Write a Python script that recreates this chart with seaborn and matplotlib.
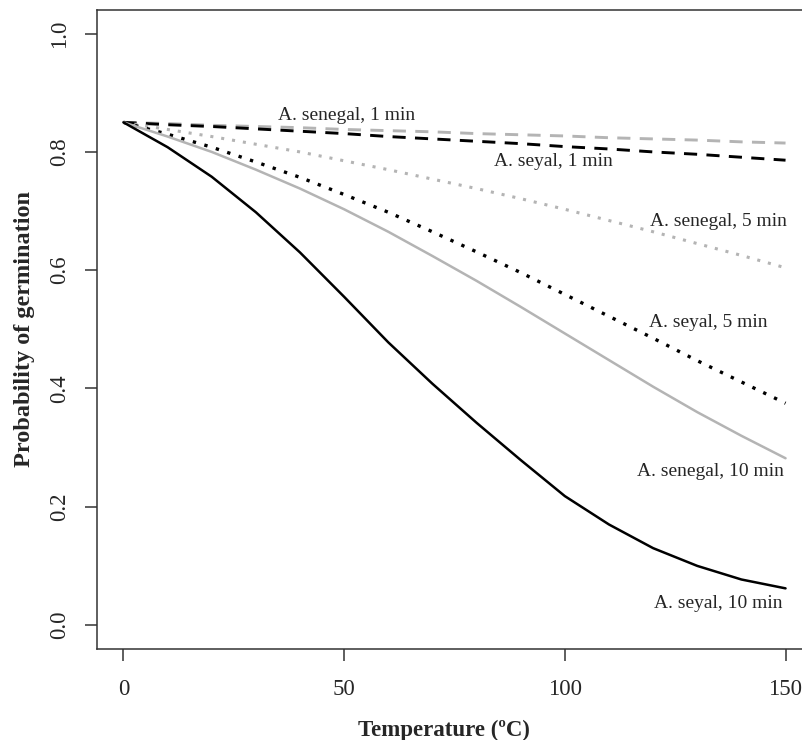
import matplotlib
matplotlib.use("Agg")
import matplotlib.pyplot as plt
import pandas as pd
import seaborn as sns

# temperature grid (ºC)
temperature = [0, 10, 20, 30, 40, 50, 60, 70, 80, 90, 100, 110, 120, 130, 140, 150]

# probability of germination
senegal_1 = [0.850, 0.848, 0.845, 0.843, 0.841, 0.838, 0.836, 0.834,
             0.831, 0.829, 0.827, 0.824, 0.822, 0.820, 0.817, 0.815]
seyal_1 = [0.850, 0.846, 0.843, 0.839, 0.835, 0.831, 0.826, 0.822,
           0.818, 0.814, 0.809, 0.805, 0.800, 0.796, 0.791, 0.786]
senegal_5 = [0.850, 0.838, 0.826, 0.813, 0.800, 0.785, 0.770, 0.754,
             0.738, 0.721, 0.703, 0.684, 0.665, 0.645, 0.625, 0.604]
seyal_5 = [0.850, 0.830, 0.808, 0.783, 0.757, 0.728, 0.698, 0.665,
           0.631, 0.596, 0.559, 0.522, 0.485, 0.447, 0.411, 0.375]
senegal_10 = [0.850, 0.826, 0.800, 0.770, 0.738, 0.703, 0.665, 0.624,
              0.582, 0.538, 0.493, 0.448, 0.403, 0.360, 0.320, 0.282]
seyal_10 = [0.850, 0.808, 0.758, 0.698, 0.630, 0.555, 0.478, 0.408,
            0.342, 0.279, 0.218, 0.170, 0.130, 0.100, 0.077, 0.062]

series_labels = ["A. senegal, 1 min", "A. seyal, 1 min", "A. senegal, 5 min",
                 "A. seyal, 5 min", "A. senegal, 10 min", "A. seyal, 10 min"]

GREY = "#b4b4b4"
DASH = (0, (4.5, 3.2))
DOT = (0, (1.0, 2.6))
styles = {
    "A. senegal, 1 min": dict(color=GREY, linestyle=DASH, lw=2.1),
    "A. seyal, 1 min": dict(color="black", linestyle=DASH, lw=2.1),
    "A. senegal, 5 min": dict(color=GREY, linestyle=DOT, lw=2.2),
    "A. seyal, 5 min": dict(color="black", linestyle=DOT, lw=2.4),
    "A. senegal, 10 min": dict(color=GREY, linestyle="-", lw=1.8),
    "A. seyal, 10 min": dict(color="black", linestyle="-", lw=1.8),
}
# where the curve names are written (data coords)
label_pos = {
    "A. senegal, 1 min": (50.5, 0.862),
    "A. seyal, 1 min": (97.5, 0.783),
    "A. senegal, 5 min": (134.7, 0.683),
    "A. seyal, 5 min": (132.6, 0.512),
    "A. senegal, 10 min": (133.0, 0.259),
    "A. seyal, 10 min": (134.8, 0.037),
}

frames = []
for name, vals in zip(series_labels,
                      [senegal_1, seyal_1, senegal_5, seyal_5, senegal_10, seyal_10]):
    frames.append(pd.DataFrame({"Temperature": temperature, "Probability": vals, "series": name}))
df = pd.concat(frames, ignore_index=True)

sns.set_style("ticks")
plt.rcParams["font.family"] = ["Liberation Serif", "DejaVu Serif"]

fig = plt.figure(figsize=(8.02, 7.4), dpi=100)
ax = fig.add_axes([0.1209, 0.1234, 0.8916, 0.8631])

# draw the lighter curves first so the black ones sit on top
for name in series_labels:
    sub = df[df["series"] == name]
    sns.lineplot(data=sub, x="Temperature", y="Probability", ax=ax,
                 legend=False, **styles[name])

for name, (x, y) in label_pos.items():
    ax.text(x, y, name, ha="center", va="center", fontsize=14)

ax.set_xlim(-6, 156)
ax.set_ylim(-0.04, 1.04)
ax.set_xticks([0, 50, 100, 150])
ax.set_yticks([0.0, 0.2, 0.4, 0.6, 0.8, 1.0])
ax.set_yticklabels(["0.0", "0.2", "0.4", "0.6", "0.8", "1.0"])

ax.tick_params(length=8.5, width=1.1, labelsize=16.5, color="#333333")
ax.tick_params(axis="x", pad=13)
ax.tick_params(axis="y", pad=11)
plt.setp(ax.get_yticklabels(), rotation=90, va="center")
for sp in ax.spines.values():
    sp.set_color("#333333")
    sp.set_linewidth(1.1)

ax.set_xlabel("Temperature (ºC)", fontsize=16.5, fontweight="bold")
ax.set_ylabel("Probability of germination", fontsize=17.5, fontweight="bold")
ax.xaxis.label.set_verticalalignment("center")
ax.yaxis.label.set_verticalalignment("center")
ax.xaxis.set_label_coords(0.485, -0.128)
ax.yaxis.set_label_coords(-0.102, 0.5)

fig.savefig("out.png", dpi=100)
